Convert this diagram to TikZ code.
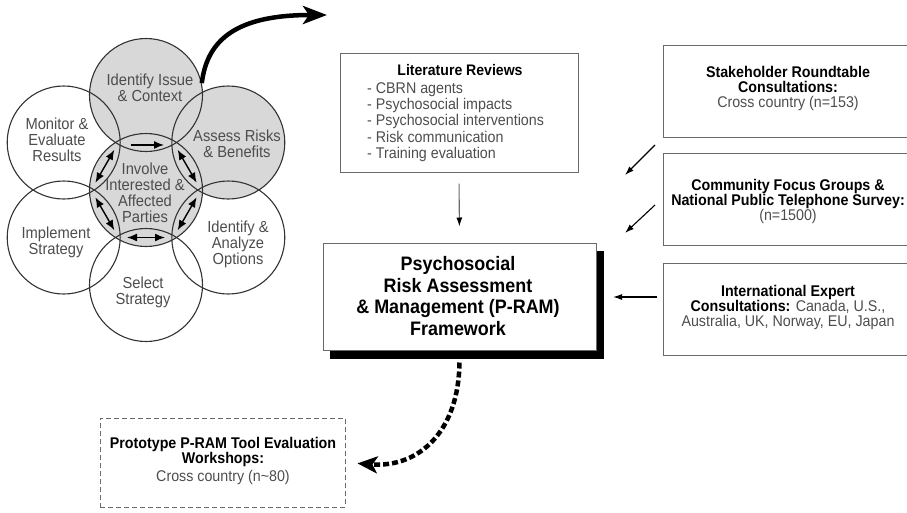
\documentclass[tikz,border=0pt]{standalone}
\usepackage{fontspec}
\setmainfont{Liberation Sans}[FakeStretch=0.92]
\usetikzlibrary{arrows.meta,calc}
\pgfdeclarelayer{background}
\pgfsetlayers{background,main}
\definecolor{discgray}{HTML}{D8D8D8}
\definecolor{inkgray}{HTML}{4D4D4D}
\definecolor{rulegray}{HTML}{6A6A6A}
\newcommand\fsz[2]{\fontsize{#1}{#2}\selectfont}

\begin{document}
\begin{tikzpicture}[x=1pt,y=-1pt,
  disc/.style={circle,draw=black!80,line width=1.1pt,minimum size=113pt,inner sep=0pt},
  disctext/.style={align=center,text=inkgray,font=\fsz{16}{16},inner sep=0pt},
  box/.style={rectangle,draw=rulegray,line width=1pt,inner sep=0pt},
  boxtext/.style={align=center,font=\fsz{15.5}{15},inner sep=0pt},
  lensarrow/.style={line width=1.4pt,{Latex[length=10pt,width=8pt]}-{Latex[length=10pt,width=8pt]}},
  onearrow/.style={line width=1.4pt,-{Latex[length=10pt,width=8pt]}},
  feed/.style={line width=1.1pt,-{Latex[length=9pt,width=6pt,black]}},
  bigarrow/.style={line width=4.5pt,-{Stealth[length=24pt,width=18pt,inset=6pt]}},
  dasharrow/.style={line width=4.5pt,dash pattern=on 6pt off 3pt,-{Stealth[length=20pt,width=17pt,inset=5pt]}}
]
\useasboundingbox (0,0) rectangle (907,512);

% ---- hexagon of process circles ----
\node[disc] (involve)   at (146,190)   {};
\node[disc] (issue)     at (146,95)    {};
\node[disc] (assess)    at (228.3,142.5) {};
\node[disc] (analyze)   at (228.3,237.5) {};
\node[disc] (select)    at (146,285)   {};
\node[disc] (implement) at (63.7,237.5) {};
\node[disc] (monitor)   at (63.7,142.5) {};

\begin{pgfonlayer}{background}
  \foreach \d in {involve,issue,assess}
    \fill[discgray] (\d.center) circle[radius=56.5pt];
\end{pgfonlayer}

\node[disctext] (tissue)   at (150,88)  {Identify Issue\\\& Context};
\node[disctext] (tmonitor) at (57,140)  {Monitor \&\\Evaluate\\Results};
\node[disctext] (tassess)  at (237,144) {Assess Risks\\\& Benefits};
\node[disctext] (tinvolve) at (145,193) {Involve\\Interested \&\\Affected\\Parties};
\node[disctext] (timpl)    at (56,242)  {Implement\\Strategy};
\node[disctext] (tanalyze) at (238,244) {Identify \&\\Analyze\\Options};
\node[disctext] (tselect)  at (143,292) {Select\\Strategy};

% ---- arrows inside the lenses around the centre ----
\coordinate (ltop) at ($(involve.center)!0.495!(issue.center)$);
\draw[onearrow] ($(ltop)+(-15,2)$) -- ($(ltop)+(18,2)$);
\foreach \o/\n in {assess/lA,analyze/lB,select/lC,implement/lD,monitor/lE}{
  \coordinate (\n) at ($(involve.center)!0.5!(\o.center)$);
  \draw[lensarrow] ($(\n)!19pt!90:(\o.center)$) -- ($(\n)!19pt!-90:(\o.center)$);
}

% ---- outgoing curved arrow ----
\coordinate (outtip) at (327,15);
\draw[bigarrow] (issue.12) .. controls (207,40) and (236,15) .. (outtip);

% ---- literature reviews ----
\node[box,minimum width=238pt,minimum height=119pt] (lit) at (459,112.5) {};
\node[boxtext,font=\bfseries\fsz{15.3}{15}] (littitle) at (460,70.5) {Literature Reviews};
\node[anchor=north west,align=left,inner sep=0pt,text=inkgray,font=\fsz{15.5}{16.2}] (litlist) at (367,82.5)
  {- CBRN agents\\- Psychosocial impacts\\- Psychosocial interventions\\- Risk communication\\- Training evaluation};

% ---- framework box with drop shadow ----
\node[box,fill=white,minimum width=273pt,minimum height=107pt] (pram) at (459.5,296.5) {};
\begin{pgfonlayer}{background}
  \fill[black] ($(pram.south west)+(7,8)$) rectangle ($(pram.north east)+(7,8)$);
\end{pgfonlayer}
\node[boxtext,font=\bfseries\fsz{19.5}{21.5}] (pramtext) at (458,296)
  {Psychosocial\\Risk Assessment\\\& Management (P-RAM)\\Framework};

\draw[feed,draw=rulegray,shorten <=11pt,shorten >=16pt] (lit.south) -- (pram.north);

% ---- consultation boxes on the right ----
\node[box,minimum width=250pt,minimum height=92pt] (stake) at (788,91) {};
\node[boxtext] (staketext) at (788,88)
  {\textbf{Stakeholder Roundtable}\\\textbf{Consultations:}\\\textcolor{inkgray}{Cross country (n=153)}};

\node[box,minimum width=250pt,minimum height=92pt] (comm) at (788,199) {};
\node[boxtext] (commtext) at (788,201.5)
  {\textbf{Community Focus Groups \&}\\\textbf{National Public Telephone Survey:}\\\textcolor{inkgray}{(n=1500)}};

\node[box,minimum width=250pt,minimum height=92pt] (intl) at (788,309) {};
\node[boxtext] (intltext) at (788,307)
  {\textbf{International Expert}\\\textbf{Consultations:} \textcolor{inkgray}{Canada, U.S.,}\\\textcolor{inkgray}{Australia, UK, Norway, EU, Japan}};

\coordinate (f1s) at (655,145); \coordinate (f1e) at (625,175);
\coordinate (f2s) at (655,205); \coordinate (f2e) at (625,233);
\coordinate (f3s) at (657,297); \coordinate (f3e) at (613,297);
\draw[feed] (f1s) -- (f1e);
\draw[feed] (f2s) -- (f2e);
\draw[feed] (f3s) -- (f3e);

% ---- evaluation workshops ----
\node[box,dashed,dash pattern=on 5pt off 3pt,minimum width=245pt,minimum height=89pt] (proto) at (222.5,462.5) {};
\node[boxtext] (prototext) at (223,461)
  {\textbf{Prototype P-RAM Tool Evaluation}\\\textbf{Workshops:}\\[3pt]\textcolor{inkgray}{Cross country (n\textasciitilde80)}};

\draw[dasharrow,shorten <=12pt,shorten >=12pt] (pram.south) .. controls (459,430) and (420,468) .. (proto.east);
\end{tikzpicture}
\end{document}
